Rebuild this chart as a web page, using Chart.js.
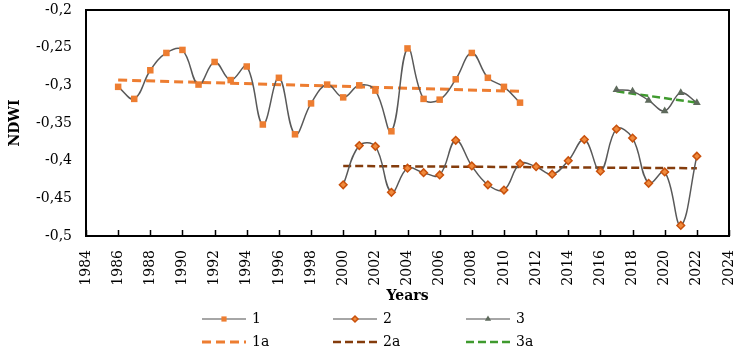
<!DOCTYPE html>
<html><head><meta charset="utf-8">
<script src="https://cdn.jsdelivr.net/npm/chart.js@4/dist/chart.umd.min.js"></script>
<style>html,body{margin:0;padding:0;background:#fff}#wrap{width:746px;height:352px;position:relative}</style>
</head><body><div id="wrap"><canvas id="c"></canvas></div>
<script>
const years1 = [1986,1987,1988,1989,1990,1991,1992,1993,1994,1995,1996,1997,1998,1999,2000,2001,2002,2003,2004,2005,2006,2007,2008,2009,2010,2011];
const ndwi1 = [-0.302,-0.318,-0.280,-0.257,-0.253,-0.299,-0.269,-0.293,-0.275,-0.352,-0.290,-0.365,-0.324,-0.299,-0.316,-0.300,-0.307,-0.361,-0.251,-0.318,-0.319,-0.292,-0.257,-0.290,-0.302,-0.323];
const years2 = [2000,2001,2002,2003,2004,2005,2006,2007,2008,2009,2010,2011,2012,2013,2014,2015,2016,2017,2018,2019,2020,2021,2022];
const ndwi2 = [-0.432,-0.380,-0.381,-0.442,-0.410,-0.416,-0.419,-0.373,-0.407,-0.432,-0.439,-0.404,-0.408,-0.418,-0.400,-0.372,-0.414,-0.358,-0.370,-0.430,-0.415,-0.486,-0.394];
const years3 = [2017,2018,2019,2020,2021,2022];
const ndwi3 = [-0.306,-0.308,-0.320,-0.334,-0.310,-0.323];
const trendYears1 = [1986, 2011];
const trend1 = [-0.293, -0.308];
const trendYears2 = [2000, 2022];
const trend2 = [-0.407, -0.410];
const trendYears3 = [2017, 2022];
const trend3 = [-0.308, -0.323];
const xTickValues = [1984,1986,1988,1990,1992,1994,1996,1998,2000,2002,2004,2006,2008,2010,2012,2014,2016,2018,2020,2022,2024];
const yTickValues = [-0.5,-0.45,-0.4,-0.35,-0.3,-0.25,-0.2];
const yTickLabels = ['-0,5','-0,45','-0,4','-0,35','-0,3','-0,25','-0,2'];
const seriesNames = ['1','2','3','1a','2a','3a'];
const xTitle = 'Years';
const yTitle = 'NDWI';

const pts = (xs, ys) => xs.map((x, i) => ({x: x, y: ys[i]}));
const FONT = 'DejaVu Serif';

const frameAndTicks = {
  id: 'frameAndTicks',
  afterDatasetsDraw(chart) {
    const {ctx, chartArea: a, scales} = chart;
    ctx.save();
    ctx.strokeStyle = '#000';
    ctx.lineWidth = 1.5;
    xTickValues.forEach(v => {
      const px = Math.round(scales.x.getPixelForValue(v)) + 0.5;
      ctx.beginPath(); ctx.moveTo(px, a.bottom); ctx.lineTo(px, a.bottom - 6); ctx.stroke();
    });
    ctx.lineWidth = 2;
    ctx.strokeRect(a.left, a.top, a.right - a.left, a.bottom - a.top);
    ctx.restore();
  }
};

const manualLegend = {
  id: 'manualLegend',
  afterDraw(chart) {
    const ctx = chart.ctx;
    const cols = [202, 333, 466];
    const rows = [chart.height - 33, chart.height - 10];
    const len = 44;
    chart.data.datasets.forEach((ds, i) => {
      const x0 = cols[i % 3], y = rows[Math.floor(i / 3)];
      ctx.save();
      ctx.strokeStyle = ds.legendLine;
      ctx.lineWidth = ds.legendWidth;
      ctx.setLineDash(ds.borderDash || []);
      ctx.beginPath(); ctx.moveTo(x0, y); ctx.lineTo(x0 + len, y); ctx.stroke();
      ctx.setLineDash([]);
      if (ds.pointRadius > 0) {
        ctx.fillStyle = ds.pointBackgroundColor;
        ctx.strokeStyle = ds.pointBorderColor;
        Chart.helpers.drawPoint(ctx, {pointStyle: ds.pointStyle, radius: ds.pointRadius * 0.8, borderWidth: ds.pointBorderWidth, rotation: 0}, x0 + len / 2, y);
      }
      ctx.fillStyle = '#000';
      ctx.font = '14px "' + FONT + '"';
      ctx.textBaseline = 'middle';
      ctx.textAlign = 'left';
      ctx.fillText(ds.label, x0 + len + 6, y);
      ctx.restore();
    });
  }
};

new Chart(document.getElementById('c'), {
  type: 'line',
  data: {
    datasets: [
      {label: seriesNames[0], data: pts(years1, ndwi1), borderColor: '#595959', borderWidth: 1.5, tension: 0.4,
       pointStyle: 'rect', pointRadius: 4.6, pointBackgroundColor: '#ED7D31', pointBorderColor: '#ED7D31', pointBorderWidth: 0,
       legendLine: '#888888', legendWidth: 1.5},
      {label: seriesNames[1], data: pts(years2, ndwi2), borderColor: '#595959', borderWidth: 1.5, tension: 0.4,
       pointStyle: 'rectRot', pointRadius: 3.8, pointBackgroundColor: '#F08A3C', pointBorderColor: '#C9510C', pointBorderWidth: 1.5,
       legendLine: '#888888', legendWidth: 1.5},
      {label: seriesNames[2], data: pts(years3, ndwi3), borderColor: '#595959', borderWidth: 1.5, tension: 0.4,
       pointStyle: 'triangle', pointRadius: 4.5, pointBackgroundColor: '#5E6A5C', pointBorderColor: '#5E6A5C', pointBorderWidth: 0,
       legendLine: '#888888', legendWidth: 1.5},
      {label: seriesNames[3], data: pts(trendYears1, trend1), borderColor: '#ED7D31', borderWidth: 3, borderDash: [9, 5],
       pointRadius: 0, tension: 0, legendLine: '#ED7D31', legendWidth: 3},
      {label: seriesNames[4], data: pts(trendYears2, trend2), borderColor: '#843C0C', borderWidth: 2.5, borderDash: [8, 4],
       pointRadius: 0, tension: 0, legendLine: '#843C0C', legendWidth: 2.5},
      {label: seriesNames[5], data: pts(trendYears3, trend3), borderColor: '#3F9A2E', borderWidth: 2.5, borderDash: [8, 4],
       pointRadius: 0, tension: 0, legendLine: '#3F9A2E', legendWidth: 2.5}
    ]
  },
  options: {
    responsive: true,
    maintainAspectRatio: false,
    animation: false,
    events: [],
    layout: {padding: {top: 10, right: 17, bottom: 45, left: 0}},
    plugins: {legend: {display: false}, tooltip: {enabled: false}},
    scales: {
      x: {
        type: 'linear', min: 1984, max: 2024,
        afterBuildTicks: s => { s.ticks = xTickValues.map(v => ({value: v})); },
        afterFit: s => { s.height = 71; s.paddingLeft = 0; s.paddingRight = 0; },
        grid: {display: false, drawTicks: false},
        border: {display: false},
        ticks: {autoSkip: false, minRotation: 90, maxRotation: 90, padding: 14, color: '#000',
                font: {family: FONT, size: 14}, callback: v => String(v)},
        title: {display: true, text: xTitle, color: '#000', font: {family: FONT, size: 14, weight: 'bold'}, padding: {top: 0, bottom: 2}}
      },
      y: {
        min: -0.5, max: -0.2,
        afterBuildTicks: s => { s.ticks = yTickValues.map(v => ({value: v})); },
        afterFit: s => { s.width = 86; s.paddingTop = 0; s.paddingBottom = 0; },
        grid: {display: false, drawTicks: false},
        border: {display: false},
        ticks: {padding: 14, color: '#000', font: {family: FONT, size: 14},
                callback: (v, i) => yTickLabels[i]},
        title: {display: true, text: yTitle, color: '#000', font: {family: FONT, size: 14, weight: 'bold'}, padding: {top: 7, bottom: 0}}
      }
    }
  },
  plugins: [frameAndTicks, manualLegend]
});
</script>
</body></html>
